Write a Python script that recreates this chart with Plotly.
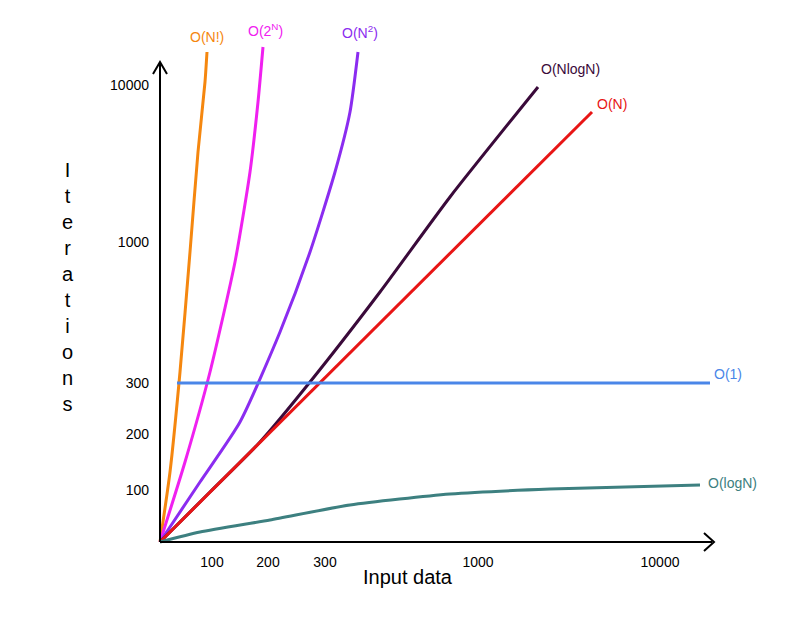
import plotly.graph_objects as go

# display-space coordinates (chart uses a schematic, non-uniform scale)
x_tick_pos = [52, 108, 165, 318, 500]
x_tick_labels = ["100", "200", "300", "1000", "10000"]
y_tick_pos = [52, 108, 159, 300, 457]
y_tick_labels = ["100", "200", "300", "1000", "10000"]

fact_x = [0, 10, 20, 30, 38, 45, 47]
fact_y = [0, 70, 170, 290, 390, 460, 490]
exp_x = [0, 25, 50, 75, 90, 98, 103]
exp_y = [0, 80, 170, 280, 370, 440, 495]
sq_x = [0, 40, 80, 120, 150, 175, 190, 198]
sq_y = [0, 60, 120, 210, 290, 370, 430, 490]
nlogn_x = [0, 50, 100, 150, 220, 290, 378]
nlogn_y = [0, 50, 100, 160, 250, 345, 455]
n_x = [0, 432]
n_y = [0, 430]
const_x = [17, 550]
const_y = [159, 159]
log_x = [0, 40, 110, 190, 290, 390, 540]
log_y = [0, 10, 22, 37, 48, 53, 57]

series = [
    ("O(N!)", fact_x, fact_y, "#f5870f"),
    ("O(2^N)", exp_x, exp_y, "#f020f0"),
    ("O(N^2)", sq_x, sq_y, "#8b2cf0"),
    ("O(NlogN)", nlogn_x, nlogn_y, "#3a0a3a"),
    ("O(N)", n_x, n_y, "#e81515"),
    ("O(1)", const_x, const_y, "#4a86e8"),
    ("O(logN)", log_x, log_y, "#3d8080"),
]

fig = go.Figure()
for name, xs, ys, c in series:
    fig.add_trace(go.Scatter(x=xs, y=ys, mode="lines", name=name,
                             line=dict(color=c, width=3, shape="spline", smoothing=0.6),
                             showlegend=False, hoverinfo="skip"))

labels = [
    ("O(N!)", 47, 505, "#f5870f"),
    ("O(2<sup>N</sup>)", 105, 512, "#f020f0"),
    ("O(N<sup>2</sup>)", 200, 510, "#8b2cf0"),
    ("O(NlogN)", 410, 473, "#3a0a3a"),
    ("O(N)", 452, 438, "#e81515"),
    ("O(1)", 568, 168, "#4a86e8"),
    ("O(logN)", 572, 59, "#3d8080"),
]
for t, x, y, c in labels:
    fig.add_annotation(x=x, y=y, text=t, showarrow=False,
                       font=dict(color=c, size=14))

# axes with arrows
line = dict(color="black", width=2)
fig.add_shape(type="line", x0=0, y0=0, x1=0, y1=478, line=line)
fig.add_shape(type="path", path="M -7,468 L 0,480 L 7,468", line=line)
fig.add_shape(type="line", x0=0, y0=0, x1=552, y1=0, line=line)
fig.add_shape(type="path", path="M 544,9 L 554,0 L 544,-9", line=line)

fig.add_annotation(x=-0.1475, y=0.49, xref="paper", yref="paper",
                   text="<br>".join("Iterations"), showarrow=False,
                   font=dict(size=20, color="black"), align="center")
fig.add_annotation(x=0.423, y=-0.07, xref="paper", yref="paper",
                   text="Input data", showarrow=False,
                   font=dict(size=20, color="black"))

fig.update_layout(
    width=812, height=630, plot_bgcolor="white", paper_bgcolor="white",
    margin=dict(l=142, r=60, t=4, b=86),
    font=dict(family="Liberation Sans, Arial", size=14, color="black"),
    xaxis=dict(range=[-10, 600], tickvals=x_tick_pos, ticktext=x_tick_labels,
               showgrid=False, zeroline=False, showline=False, ticks="",
               ticklen=5, tickcolor="black"),
    yaxis=dict(range=[-10, 530], tickvals=y_tick_pos, ticktext=y_tick_labels,
               showgrid=False, zeroline=False, showline=False, ticks="",
               ticklen=5, tickcolor="black"),
)
fig.write_html("out.html")
